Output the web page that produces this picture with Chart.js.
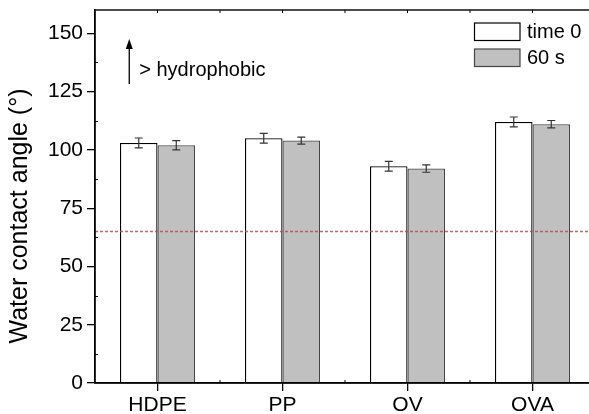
<!DOCTYPE html>
<html><head><meta charset="utf-8">
<script src="https://cdn.jsdelivr.net/npm/chart.js@4/dist/chart.umd.min.js"></script>
<style>html,body{margin:0;padding:0;overflow:hidden;background:#fff}</style>
</head><body>
<canvas id="c" width="600" height="414"></canvas>
<script>
const categories = ['HDPE', 'PP', 'OV', 'OVA'];
const seriesLabels = ['time 0', '60 s'];
const time0 = [103, 105, 93, 112];
const sec60 = [102, 104, 92, 111];
const errTime0 = [2.1, 2.1, 2.1, 2.1];
const errSec60 = [2.0, 1.5, 1.6, 1.6];
const yTicks = [0, 25, 50, 75, 100, 125, 150];
const thresholdValue = 65;
const annotationText = '> hydrophobic';
const yTitle = 'Water contact angle (°)';

const FONT = '"Liberation Sans", Arial, sans-serif';

function noPad(s) { s.paddingTop = 0; s.paddingBottom = 0; s.paddingLeft = 0; s.paddingRight = 0; }

const decor = {
  id: 'decor',
  afterDatasetsDraw(chart) {
    const {ctx, chartArea: a, scales: {x, y}} = chart;
    ctx.save();
    // error bars
    const errs = [errTime0, errSec60];
    chart.data.datasets.forEach((ds, di) => {
      const meta = chart.getDatasetMeta(di);
      meta.data.forEach((bar, i) => {
        const v = ds.data[i], e = errs[di][i];
        const yt = y.getPixelForValue(v + e), yb = y.getPixelForValue(v - e);
        ctx.strokeStyle = '#333';
        ctx.lineWidth = 1.2;
        ctx.beginPath();
        ctx.moveTo(bar.x, yt); ctx.lineTo(bar.x, yb);
        ctx.moveTo(bar.x - 4, yt); ctx.lineTo(bar.x + 4, yt);
        ctx.moveTo(bar.x - 4, yb); ctx.lineTo(bar.x + 4, yb);
        ctx.stroke();
      });
    });
    // threshold dashed line
    const yt = y.getPixelForValue(thresholdValue);
    ctx.strokeStyle = 'rgba(180,80,80,0.85)';
    ctx.lineWidth = 1.5;
    ctx.setLineDash([3, 2]);
    ctx.beginPath(); ctx.moveTo(a.left, yt); ctx.lineTo(a.right, yt); ctx.stroke();
    ctx.setLineDash([]);
    // frame
    ctx.strokeStyle = '#000';
    ctx.lineWidth = 1.4;
    ctx.strokeRect(a.left, a.top, a.right - a.left, a.bottom - a.top);
    // minor ticks on y (inward)
    ctx.lineWidth = 1;
    for (let v = 12.5; v < 160; v += 25) {
      const py = Math.round(y.getPixelForValue(v)) + 0.5;
      ctx.beginPath(); ctx.moveTo(a.left, py); ctx.lineTo(a.left + 3, py); ctx.stroke();
    }
    // minor ticks on x (between categories, inward) and top ticks
    for (let i = 0; i < categories.length; i++) {
      const px = x.getPixelForValue(i);
      const half = (x.getPixelForValue(1) - x.getPixelForValue(0)) / 2;
      ctx.beginPath();
      ctx.moveTo(px + half, a.bottom); ctx.lineTo(px + half, a.bottom - 3);
      ctx.moveTo(px, a.top); ctx.lineTo(px, a.top + 3);
      ctx.moveTo(px + half, a.top); ctx.lineTo(px + half, a.top + 3);
      ctx.stroke();
    }
    // arrow annotation
    const ax = x.getPixelForValue(-0.226);
    const ay0 = y.getPixelForValue(128.3), ay1 = y.getPixelForValue(147.6);
    ctx.strokeStyle = '#000'; ctx.fillStyle = '#000'; ctx.lineWidth = 1.3;
    ctx.beginPath(); ctx.moveTo(ax, ay0); ctx.lineTo(ax, ay1 + 8); ctx.stroke();
    ctx.beginPath(); ctx.moveTo(ax, ay1); ctx.lineTo(ax - 3.5, ay1 + 10); ctx.lineTo(ax + 3.5, ay1 + 10); ctx.closePath(); ctx.fill();
    ctx.font = '20px ' + FONT;
    ctx.textBaseline = 'middle'; ctx.textAlign = 'left';
    ctx.fillText(annotationText, ax + 10, y.getPixelForValue(134));
    // legend
    chart.data.datasets.forEach((ds, di) => {
      const ly = 23 + di * 26;
      ctx.fillStyle = ds.backgroundColor;
      ctx.fillRect(474.5, ly, 45.5, 17.5);
      ctx.strokeStyle = ds.borderColor; ctx.lineWidth = 1.2;
      ctx.strokeRect(474.5, ly, 45.5, 17.5);
      ctx.fillStyle = '#000';
      ctx.font = '20px ' + FONT;
      ctx.textBaseline = 'middle';
      ctx.fillText(ds.label, 527, ly + 9.5);
    });
    // y title
    ctx.save();
    ctx.translate(20, 216);
    ctx.rotate(-Math.PI / 2);
    ctx.textAlign = 'center'; ctx.textBaseline = 'middle';
    ctx.font = '25px ' + FONT;
    ctx.fillStyle = '#000';
    ctx.fillText(yTitle, 0, 0);
    ctx.restore();
    ctx.restore();
  }
};

new Chart(document.getElementById('c'), {
  type: 'bar',
  data: {
    labels: categories,
    datasets: [
      {label: seriesLabels[0], data: time0, backgroundColor: '#ffffff', borderColor: '#000000', borderWidth: 1.3},
      {label: seriesLabels[1], data: sec60, backgroundColor: '#c0c0c0', borderColor: '#444444', borderWidth: 1.3}
    ]
  },
  options: {
    responsive: false,
    animation: false,
    layout: {padding: {top: 10, right: 5, left: 0, bottom: 0}},
    datasets: {bar: {categoryPercentage: 0.6, barPercentage: 1.0}},
    plugins: {legend: {display: false}, tooltip: {enabled: false}},
    scales: {
      x: {
        afterFit(s) { s.height = 31; noPad(s); },
        grid: {display: true, drawOnChartArea: false, drawTicks: true, tickLength: 8, offset: false, color: '#000', lineWidth: 1.3},
        border: {display: true, color: '#000', width: 1.4},
        ticks: {color: '#000', font: {family: FONT, size: 21}, padding: 2}
      },
      y: {
        min: 0, max: 160,
        afterFit(s) { s.width = 95; noPad(s); },
        afterBuildTicks(s) { s.ticks = yTicks.map(v => ({value: v})); },
        grid: {display: true, drawOnChartArea: false, drawTicks: true, tickLength: 8, color: '#000', lineWidth: 1.3},
        border: {display: true, color: '#000', width: 1.4},
        ticks: {color: '#000', font: {family: FONT, size: 21}, padding: 4}
      }
    }
  },
  plugins: [decor]
});
</script>
</body></html>
